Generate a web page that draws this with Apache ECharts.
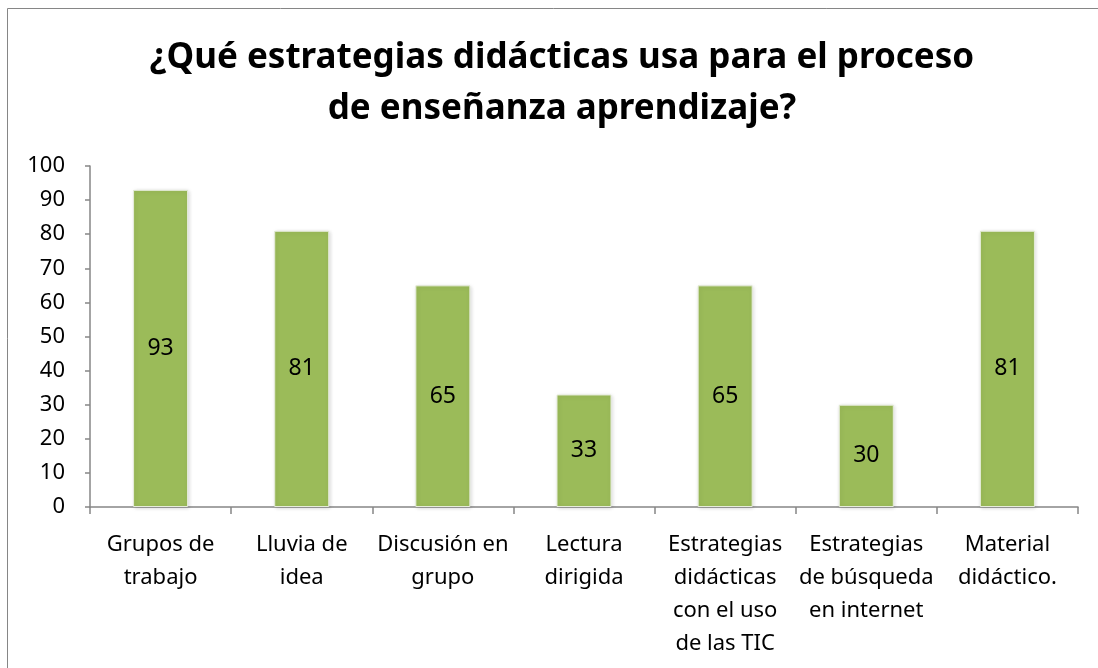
<!DOCTYPE html>
<html>
<head>
<meta charset="utf-8">
<style>
  html, body { margin: 0; padding: 0; background: #fff; }
  #main { width: 1098px; height: 668px; }
</style>
<script src="https://cdn.jsdelivr.net/npm/echarts@6/dist/echarts.min.js"></script>
</head>
<body>
<div id="main"></div>
<script>
// data
var categories = [
  "Grupos de\ntrabajo",
  "Lluvia de\nidea",
  "Discusión en\ngrupo",
  "Lectura\ndirigida",
  "Estrategias\ndidácticas\ncon el uso\nde las TIC",
  "Estrategias\nde búsqueda\nen internet",
  "Material\ndidáctico."
];
var values = [93, 81, 65, 33, 65, 30, 81];
var yTicks = { min: 0, max: 100, interval: 10 };

var font = "'Noto Sans', 'Open Sans', sans-serif";

var myChart = echarts.init(document.getElementById("main"));
myChart.setOption({
  animation: false,
  title: {
    text: "¿Qué estrategias didácticas usa para el proceso\nde enseñanza aprendizaje?",
    left: 557,
    top: 28,
    textAlign: "center",
    textStyle: {
      fontFamily: font,
      fontWeight: "bold",
      fontSize: 35,
      lineHeight: 51,
      color: "#000"
    }
  },
  graphic: [
    {
      type: "rect",
      shape: { x: 7.5, y: 8.5, width: 1200, height: 800 },
      style: { fill: "none", stroke: "#868686", lineWidth: 1 },
      silent: true
    }
  ],
  grid: {
    left: 90,
    right: 20,
    top: 166,
    bottom: 161
  },
  xAxis: {
    type: "category",
    data: categories,
    axisLine: { show: true, lineStyle: { color: "#868686", width: 1.5 } },
    axisTick: { show: true, length: 7, lineStyle: { color: "#868686", width: 1.5 } },
    axisLabel: {
      interval: 0,
      margin: 21,
      fontFamily: font,
      fontSize: 22,
      lineHeight: 33,
      color: "#000"
    }
  },
  yAxis: {
    type: "value",
    min: yTicks.min,
    max: yTicks.max,
    interval: yTicks.interval,
    axisLine: { show: true, lineStyle: { color: "#868686", width: 1.5 } },
    axisTick: { show: true, length: 5, lineStyle: { color: "#868686", width: 1.5 } },
    splitLine: { show: false },
    axisLabel: {
      margin: 25,
      fontFamily: font,
      fontSize: 22,
      color: "#000"
    }
  },
  series: [
    {
      type: "bar",
      data: values,
      barWidth: 55,
      itemStyle: {
        color: "#9BBB59",
        borderColor: "#E6ECDA",
        borderWidth: 1,
        shadowColor: "rgba(0,0,0,0.15)",
        shadowBlur: 4,
        shadowOffsetX: 1,
        shadowOffsetY: 1
      },
      label: {
        show: true,
        position: "inside",
        fontFamily: font,
        fontSize: 23,
        color: "#000"
      }
    }
  ]
});
</script>
</body>
</html>
